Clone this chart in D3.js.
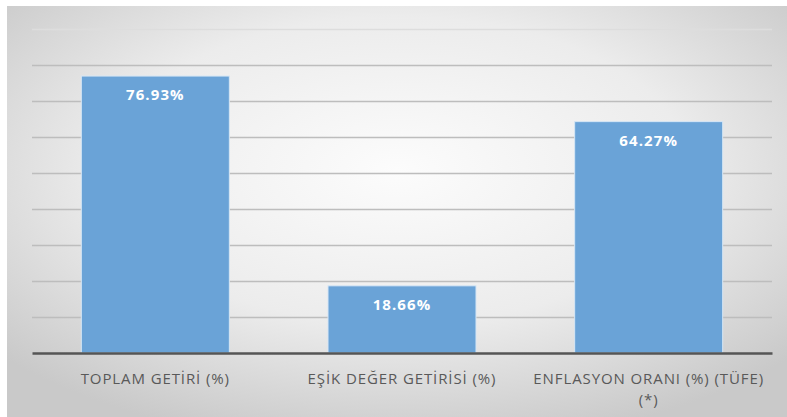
<!DOCTYPE html>
<html>
<head>
<meta charset="utf-8">
<script src="https://cdn.jsdelivr.net/npm/d3@7"></script>
<style>
    body { margin: 0; background: #ffffff; }
</style>
</head>
<body>
<div id="chart"></div>
<script>
var categories = ["TOPLAM GETİRİ (%)", "EŞİK DEĞER GETİRİSİ (%)", "ENFLASYON ORANI (%) (TÜFE) (*)"];
var values = [76.93, 18.66, 64.27];
var yTicks = [0, 10, 20, 30, 40, 50, 60, 70, 80, 90];

var data = categories.map(function (c, i) {
    return { name: c, value: values[i] };
});

var W = 787, H = 417;
var margin = { top: 29, right: 15, bottom: 64, left: 32 };
var width = W - margin.left - margin.right;
var height = H - margin.top - margin.bottom;

var svg = d3.select("#chart").append("svg")
    .attr("width", W)
    .attr("height", H)

// background gradient like the office chart area
var defs = svg.append("defs");
var grad = defs.append("radialGradient")
    .attr("id", "bg")
    .attr("cx", "50%").attr("cy", "40%")
    .attr("r", "68%");
grad.append("stop").attr("offset", "0%").attr("stop-color", "#fcfcfc");
grad.append("stop").attr("offset", "55%").attr("stop-color", "#ececec");
grad.append("stop").attr("offset", "100%").attr("stop-color", "#c9c9c9");

svg.append("rect")
    .attr("x", 7).attr("y", 6)
    .attr("width", W - 7).attr("height", H - 6)
    .attr("fill", "url(#bg)")

var g = svg.append("g")
    .attr("transform", "translate(" + margin.left + "," + margin.top + ")")

var x = d3.scaleBand()
    .domain(categories)
    .range([0, width])
    .paddingInner(0.4)
    .paddingOuter(0.2);

var y = d3.scaleLinear()
    .domain([0, 90])
    .range([height, 0]);

// gridlines
g.append("g")
    .attr("class", "grid")
    .call(d3.axisLeft(y).tickValues(yTicks.slice(1)).tickSize(-width).tickFormat(""))
    .call(function (s) {
        s.select(".domain").remove();
        s.selectAll("line")
            .attr("stroke", function (d) { return d == 90 ? "#dddddd" : "#bdbdbd"; })
            .attr("stroke-width", 1.5);
    })

// bars
g.selectAll("rect.bar")
    .data(data)
    .enter()
    .append("rect")
    .attr("class", "bar")
    .attr("x", function (d) { return x(d.name); })
    .attr("y", function (d) { return y(d.value); })
    .attr("width", x.bandwidth())
    .attr("height", function (d) { return height - y(d.value); })
    .attr("fill", "#6aa3d7")
    .attr("stroke", "#d6e6f5")
    .attr("stroke-width", 1)

// value labels
g.selectAll("text.val")
    .data(data)
    .enter()
    .append("text")
    .attr("class", "val")
    .attr("x", function (d) { return x(d.name) + x.bandwidth() / 2; })
    .attr("y", function (d) { return y(d.value) + 24; })
    .attr("text-anchor", "middle")
    .attr("fill", "#ffffff")
    .style("font-family", "'Open Sans', sans-serif")
    .style("font-weight", "bold")
    .style("font-size", "15px")
    .style("letter-spacing", "1.1px")
    .text(function (d) { return d.value.toFixed(2) + "%"; })

// baseline / x axis
var xAxis = g.append("g")
    .attr("class", "x-axis")
    .attr("transform", "translate(0," + height + ")")
    .call(d3.axisBottom(x).tickSize(0).tickPadding(0))

xAxis.select(".domain")
    .attr("stroke", "#555555")
    .attr("stroke-width", 2.5)

xAxis.selectAll(".tick text")
    .attr("fill", "#595959")
    .attr("dy", 0)
    .attr("y", 31)
    .style("font-family", "'Open Sans', sans-serif")
    .style("font-size", "15px")
    .style("letter-spacing", "0.9px")
    .each(function (d) {
        // wrap the long label
        var t = d3.select(this);
        var parts = d.split(" (*)");
        if (parts.length > 1) {
            t.text(parts[0]);
            t.append("tspan").attr("x", 0).attr("y", 52).text("(*)");
        }
    })
</script>
</body>
</html>
